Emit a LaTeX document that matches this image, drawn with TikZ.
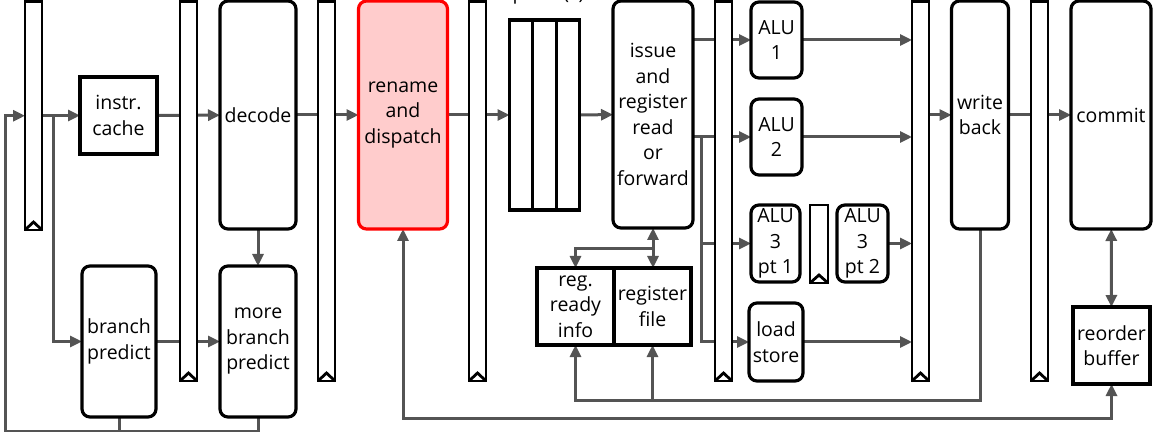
\documentclass[tikz,border=0pt]{standalone}
\usepackage{fontspec}
\setmainfont{Open Sans}
\usetikzlibrary{arrows.meta,calc}
\pgfdeclarelayer{bg}
\pgfsetlayers{bg,main}
\begin{document}
\begin{tikzpicture}[x=0.5pt,y=-0.5pt,
  every node/.style={font=\fontsize{9.75pt}{12.75pt}\selectfont, align=center, inner sep=0pt, outer sep=0pt},
  stage/.style={draw=black, line width=1.6pt, rounded corners=4pt},
  sqbox/.style={draw=black, line width=1.6pt},
  hot/.style={stage, draw=red, fill=red!20},
  preg/.style={draw=black, fill=white, line width=1.4pt, minimum width=8.5pt},
  conn/.style={draw=black!67, line width=1.5pt},
  arr/.style={conn, -{Triangle[length=6pt,width=5.5pt]}},
  darr/.style={conn, {Triangle[length=6pt,width=5.5pt]}-{Triangle[length=6pt,width=5.5pt]}},
]
\useasboundingbox (0,0) rectangle (1155,432);

% stages
\node[sqbox, minimum width=38.5pt, minimum height=38.5pt] (cache) at (118.5,115.5) {instr.\\cache};
\node[stage, minimum width=38pt, minimum height=114pt] (decode) at (258,115) {decode};
\node[stage, minimum width=37pt, minimum height=75.5pt] (bp) at (119,341.5) {branch\\predict};
\node[stage, minimum width=38pt, minimum height=75.5pt] (mbp) at (258,341.5) {more\\branch\\predict};
\node[hot, minimum width=44.5pt, minimum height=114pt] (rename) at (403,115) {rename\\and\\dispatch};
\node[sqbox, minimum width=35pt, minimum height=95pt] (queue) at (544.5,115) {};
\node[anchor=base] (qlabel) at (545,0) {queue(s)};
\node[stage, minimum width=40pt, minimum height=113.5pt] (issue) at (653,114.5) {issue\\and\\register\\read\\or\\forward};
\node[sqbox, minimum width=38.5pt, minimum height=38.5pt] (ready) at (575.5,306.5) {reg.\\ready\\info};
\node[sqbox, minimum width=38.5pt, minimum height=38.5pt] (regfile) at (652.5,306.5) {register\\file};
\node[stage, minimum width=25.5pt, minimum height=38pt] (alu1) at (776.5,40) {ALU\\1};
\node[stage, minimum width=25.5pt, minimum height=38pt] (alu2) at (776.5,137) {ALU\\2};
\node[stage, minimum width=24.5pt, minimum height=38.5pt] (alu3a) at (775.5,243.5) {ALU\\3\\pt 1};
\node[stage, minimum width=25.5pt, minimum height=38.5pt] (alu3b) at (862.5,243.5) {ALU\\3\\pt 2};
\node[stage, minimum width=27pt, minimum height=39pt] (ls) at (776,342) {load\\store};
\node[stage, minimum width=28.5pt, minimum height=114pt] (wb) at (980,115) {write\\back};
\node[stage, minimum width=40pt, minimum height=114pt] (commit) at (1111,115) {commit};
\node[sqbox, minimum width=38.5pt, minimum height=38.5pt] (rob) at (1111.5,345.5) {reorder\\buffer};

% queue slots
\draw[line width=1.6pt] ($(queue.north west)!0.3333!(queue.north east)$) -- ($(queue.south west)!0.3333!(queue.south east)$);
\draw[line width=1.6pt] ($(queue.north west)!0.6667!(queue.north east)$) -- ($(queue.south west)!0.6667!(queue.south east)$);

% pipeline registers
\node[preg, minimum height=114.25pt] (r1) at (33.5,115.75) {};
\node[preg, minimum height=189.75pt] (r2) at (188.5,191.25) {};
\node[preg, minimum height=189.75pt] (r3) at (326.5,191.25) {};
\node[preg, minimum height=189.75pt] (r4) at (477.5,191.25) {};
\node[preg, minimum height=189.75pt] (r5) at (723.5,191.25) {};
\node[preg, minimum height=189.75pt] (r6) at (920.5,191.25) {};
\node[preg, minimum height=189.75pt] (r7) at (1039.5,191.25) {};
\node[preg, minimum width=9pt, minimum height=39pt] (rs) at (819,244) {};
\foreach \r in {r1,r2,r3,r4,r5,r6,r7,rs}
  \draw[line width=1.4pt] (\r.south west) -- ([yshift=4pt]\r.south) -- (\r.south east);

% connectors
\coordinate (fbL) at (5,431);
\coordinate (j1) at (53,115.5);
\coordinate (j2) at (701,137);
\coordinate (j3) at (653,249);
\coordinate (wbb) at (575.5,400);
\coordinate (rb) at (403,418);
\begin{pgfonlayer}{bg}
\draw[arr] (bp.south) |- (fbL) |- (r1.west);
\draw[conn] (mbp.south) |- (fbL);
\draw[arr] (cache.west -| r1.east) -- (cache.west);
\draw[arr] (j1) |- (bp.west);
\draw[arr] (cache) -- (decode);
\draw[arr] (bp) -- (mbp);
\draw[arr] (decode) -- (mbp);
\draw[arr] (decode) -- (rename);
\draw[arr] (rename) -- (queue);
\draw[arr] (queue) -- (issue);
\draw[arr] (issue.east |- alu1) -- (alu1);
\draw[arr] (issue.east |- alu2) -- (alu2);
\draw[arr] (j2) |- (ls.west);
\draw[arr] (j2 |- alu3a) -- (alu3a);
\draw[arr] (alu1) -- (alu1 -| r6.west);
\draw[arr] (alu2) -- (alu2 -| r6.west);
\draw[arr] (alu3b) -- (alu3b -| r6.west);
\draw[arr] (ls) -- (ls -| r6.west);
\draw[arr] (wb.west -| r6.east) -- (wb.west);
\draw[arr] (wb) -- (commit);
\draw[darr] (commit) -- (rob);
\draw[arr] (wb.south) |- (wbb) -- (ready.south);
\draw[arr] (regfile.south |- wbb) -- (regfile.south);
\draw[darr] (rename.south) -- (rb) -| (rob.south);
\draw[darr] (issue.south) -- (issue.south |- regfile.north);
\draw[arr] (j3) -| (ready.north);
\end{pgfonlayer}
\end{tikzpicture}
\end{document}
